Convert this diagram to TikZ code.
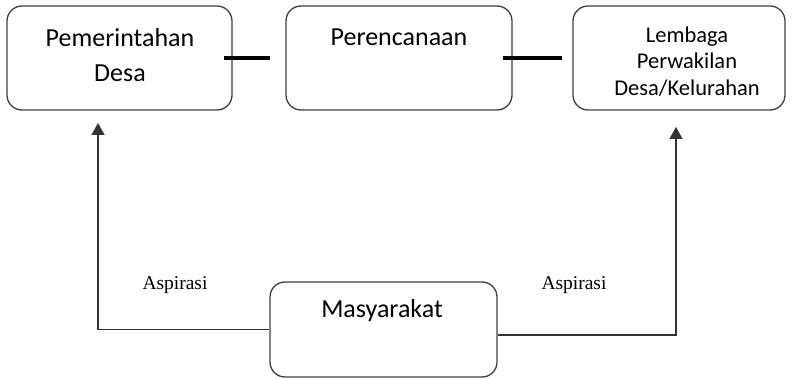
\documentclass[tikz,border=0pt]{standalone}
\usepackage{fontspec}
\setmainfont{Carlito}
\newfontfamily\serifaspi{Liberation Serif}
\usetikzlibrary{arrows.meta,calc}
\tikzset{
  box/.style={draw=black!75, line width=1.3pt, rounded corners=15pt, fill=white, inner sep=0pt},
  link/.style={black, line width=4pt},
  flow/.style={draw=black!80, line width=1.3pt, -{Triangle[width=13pt,length=12pt]}},
  bigtxt/.style={font=\fontsize{26}{35}\selectfont, inner sep=0pt, align=center, anchor=base},
  smalltxt/.style={font=\fontsize{22.5}{27}\selectfont, inner sep=0pt, align=center, anchor=base},
  aspi/.style={font=\serifaspi\fontsize{19.5}{22}\selectfont, inner sep=0pt, anchor=base}
}
\begin{document}
\begin{tikzpicture}[x=1pt,y=-1pt]
\useasboundingbox (0,0) rectangle (793,379);
% boxes
\node[box, minimum width=225pt, minimum height=104pt] (pd) at (119.5,58) {};
\node[box, minimum width=226pt, minimum height=104pt] (pr) at (399,58) {};
\node[box, minimum width=212pt, minimum height=104pt] (lp) at (679,58) {};
\node[box, minimum width=227pt, minimum height=95pt] (ms) at (383.5,329.5) {};
% texts
\node[bigtxt] (tpd1) at (120,47) {Pemerintahan};
\node[bigtxt] (tpd2) at (120,82) {Desa};
\node[bigtxt] (tpr) at (399,46) {Perencanaan};
\node[smalltxt] (tlp1) at (687,43) {Lembaga};
\node[smalltxt] (tlp2) at (687,69) {Perwakilan};
\node[smalltxt] (tlp3) at (687,96) {Desa/Kelurahan};
\node[bigtxt] (tms) at (382,318) {Masyarakat};
\node[aspi] (a1) at (175,290) {Aspirasi};
\node[aspi] (a2) at (574,290) {Aspirasi};
% thick links
\draw[link] ($(pd.east)+(-9,0)$) -- ($(pr.west)+(-15,0)$);
\draw[link] ($(pr.east)+(-10,0)$) -- ($(lp.west)+(-10,0)$);
% arrows
\coordinate (t1) at (98,123);
\coordinate (t2) at (676,127);
\draw[flow] (ms.west) -| (t1);
\draw[flow] ($(ms.east)+(0,5.5)$) -| (t2);
\end{tikzpicture}
\end{document}
